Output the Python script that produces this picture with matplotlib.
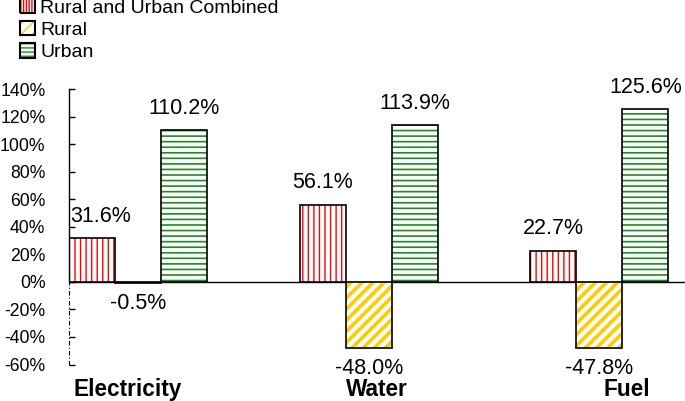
import matplotlib
matplotlib.use("Agg")
import matplotlib.pyplot as plt
from matplotlib.patches import Patch, Rectangle
from matplotlib.legend_handler import HandlerPatch
import numpy as np

categories = ["Electricity", "Water", "Fuel"]
series_names = ["Rural and Urban Combined", "Rural", "Urban"]
combined = [31.6, 56.1, 22.7]
rural = [-0.5, -48.0, -47.8]
urban = [110.2, 113.9, 125.6]
yticks = [-60, -40, -20, 0, 20, 40, 60, 80, 100, 120, 140]

plt.rcParams['font.family'] = ['Liberation Sans', 'DejaVu Sans']

colors = ['#FF0000', '#FFCC00', '#1E8C1E']
hatches = ['|||', '///', '---']
hatch_lw = [1.0, 2.6, 1.2]

fig = plt.figure(figsize=(6.85, 4.01), dpi=100)
ax = fig.add_axes([69/685, (401-364.5)/401, 1 - 69/685, (364.5-89)/401])

x = np.arange(len(categories))
w = 0.2
data = [combined, rural, urban]
for k, vals in enumerate(data):
    pos = x + (k - 1) * w
    with plt.rc_context({'hatch.linewidth': hatch_lw[k]}):
        ax.bar(pos, vals, w, facecolor='white', edgecolor=colors[k],
               hatch=hatches[k], linewidth=0, zorder=2)
    ax.bar(pos, vals, w, facecolor='none', edgecolor='black',
           linewidth=1.2, zorder=3)
    for j, v in enumerate(vals):
        dx = 6 if (k == 0 and j == 0) else 0
        if v >= 0:
            ax.annotate(f"{v:.1f}%", (pos[j], v), xytext=(dx, 8),
                        textcoords='offset points', ha='center', va='bottom',
                        fontsize=15.5)
        else:
            ax.annotate(f"{v:.1f}%", (pos[j], v), xytext=(dx, -7.5),
                        textcoords='offset points', ha='center', va='top',
                        fontsize=15.5)

ax.set_xlim(-0.3, 2.372)
ax.set_ylim(-60, 140)
ax.axhline(0, color='black', linewidth=1.0, zorder=1)

for s in ['top', 'right', 'bottom', 'left']:
    ax.spines[s].set_visible(False)
ax.plot([0, 0], [0.3, 1.0], transform=ax.transAxes, color='black',
        linewidth=1.0, clip_on=False)
ax.plot([0, 0], [0, 0.3], transform=ax.transAxes, color='black',
        linewidth=0.8, linestyle=(0, (4, 2, 1, 2)), clip_on=False)

ax.set_yticks(yticks)
ax.set_yticklabels([f"{t}%" for t in yticks], fontsize=12.7)
ax.tick_params(axis='y', direction='in', length=4, width=1.0, pad=17)
ax.set_xticks([])

label_offsets = [-0.045, 0.035, 0.12]
for j, c in enumerate(categories):
    ax.annotate(c, (x[j] + label_offsets[j], -60), xytext=(0, -10),
                textcoords='offset points', ha='center', va='top',
                fontsize=16.3, fontweight='bold', annotation_clip=False)


class HP(HandlerPatch):
    def __init__(self, col, hatch, **kw):
        super().__init__(**kw)
        self.col = col
        self.hatch = hatch

    def create_artists(self, legend, orig_handle, xdescent, ydescent, width, height, fontsize, trans):
        r1 = Rectangle((-xdescent, -ydescent), width, height, facecolor='white',
                       edgecolor=self.col, hatch=self.hatch, linewidth=0, transform=trans)
        r2 = Rectangle((-xdescent, -ydescent), width, height, facecolor='none',
                       edgecolor='black', linewidth=1.5, transform=trans)
        return [r1, r2]


handles = [Patch(facecolor='white', edgecolor=colors[k]) for k in range(3)]
hmap = {handles[k]: HP(colors[k], ['||||||', '///', '----'][k]) for k in range(3)}
leg = fig.legend(handles, series_names, loc='upper left', bbox_to_anchor=(20/685, 1.0 + 1/401),
                 frameon=False, fontsize=14, handlelength=0.75, handleheight=0.75,
                 handletextpad=0.3, labelspacing=0.22, borderaxespad=0, borderpad=0,
                 handler_map=hmap)

fig.savefig("out.png", dpi=100)
